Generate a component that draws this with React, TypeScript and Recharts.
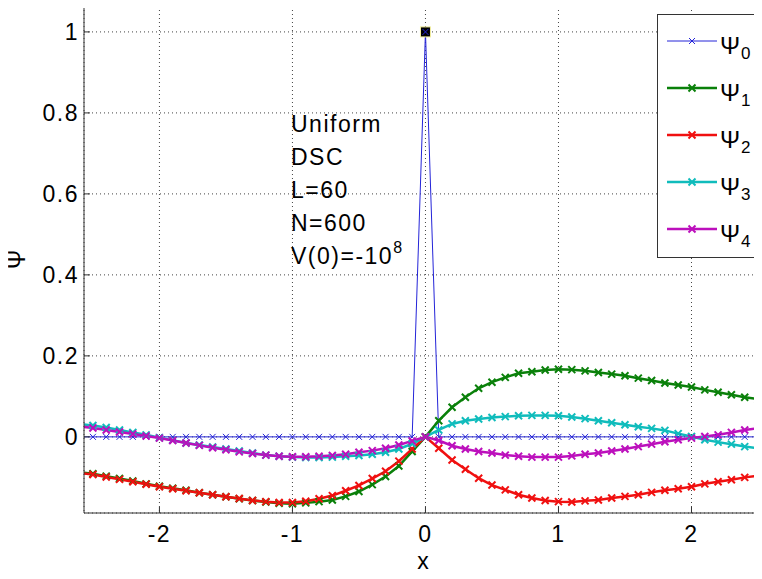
import React from 'react';
import { ComposedChart, Line, XAxis, YAxis, CartesianGrid, Legend, ReferenceDot } from 'recharts';

// grid points, step 0.1 (L=60, N=600), a bit past the visible x range on both sides
const xs = [
  -2.6, -2.5, -2.4, -2.3, -2.2, -2.1, -2.0, -1.9, -1.8, -1.7, -1.6, -1.5, -1.4,
  -1.3, -1.2, -1.1, -1.0, -0.9, -0.8, -0.7, -0.6, -0.5, -0.4, -0.3, -0.2, -0.1,
  0,
  0.1, 0.2, 0.3, 0.4, 0.5, 0.6, 0.7, 0.8, 0.9, 1.0, 1.1, 1.2, 1.3,
  1.4, 1.5, 1.6, 1.7, 1.8, 1.9, 2.0, 2.1, 2.2, 2.3, 2.4, 2.5, 2.6,
];

const psi0 = [
  0, 0, 0, 0, 0, 0, 0, 0, 0, 0, 0, 0, 0,
  0, 0, 0, 0, 0, 0, 0, 0, 0, 0, 0, 0, 0,
  1,
  0, 0, 0, 0, 0, 0, 0, 0, 0, 0, 0, 0, 0,
  0, 0, 0, 0, 0, 0, 0, 0, 0, 0, 0, 0, 0,
];

const psi1 = [
  -0.087, -0.091, -0.097, -0.103, -0.109, -0.116, -0.122, -0.127, -0.132, -0.138, -0.143, -0.148, -0.153,
  -0.157, -0.161, -0.164, -0.165, -0.163, -0.160, -0.156, -0.147, -0.135, -0.118, -0.098, -0.072, -0.036,
  0,
  0.040, 0.073, 0.098, 0.120, 0.135, 0.147, 0.157, 0.161, 0.165, 0.167, 0.166, 0.163, 0.159,
  0.155, 0.151, 0.145, 0.139, 0.133, 0.128, 0.123, 0.116, 0.110, 0.104, 0.098, 0.093, 0.088,
];

const psi2 = [
  -0.089, -0.093, -0.099, -0.105, -0.111, -0.117, -0.123, -0.128, -0.133, -0.138, -0.143, -0.148, -0.152,
  -0.157, -0.160, -0.162, -0.162, -0.159, -0.153, -0.145, -0.133, -0.120, -0.103, -0.085, -0.060, -0.030,
  0,
  -0.028, -0.057, -0.080, -0.102, -0.119, -0.131, -0.143, -0.151, -0.157, -0.160, -0.161, -0.158, -0.156,
  -0.151, -0.147, -0.143, -0.137, -0.132, -0.128, -0.123, -0.116, -0.111, -0.106, -0.100, -0.096, -0.091,
];

const psi3 = [
  0.032, 0.028, 0.023, 0.017, 0.011, 0.005, -0.002, -0.008, -0.015, -0.020, -0.025, -0.030, -0.035,
  -0.040, -0.045, -0.048, -0.050, -0.051, -0.051, -0.050, -0.048, -0.046, -0.043, -0.038, -0.030, -0.017,
  0,
  0.017, 0.032, 0.040, 0.044, 0.048, 0.050, 0.052, 0.053, 0.053, 0.052, 0.049, 0.045, 0.040,
  0.035, 0.030, 0.025, 0.021, 0.016, 0.008, 0.001, -0.007, -0.013, -0.018, -0.024, -0.028, -0.031,
];

const psi4 = [
  0.026, 0.022, 0.017, 0.012, 0.007, 0.002, -0.003, -0.009, -0.015, -0.021, -0.027, -0.032, -0.037,
  -0.041, -0.045, -0.048, -0.049, -0.049, -0.048, -0.046, -0.043, -0.038, -0.034, -0.028, -0.020, -0.010,
  0,
  -0.009, -0.022, -0.030, -0.036, -0.040, -0.045, -0.048, -0.050, -0.050, -0.050, -0.047, -0.043, -0.040,
  -0.035, -0.030, -0.024, -0.018, -0.012, -0.007, -0.003, 0.001, 0.005, 0.011, 0.017, 0.021, 0.024,
];

const xTicks = [-2, -1, 0, 1, 2];
const yTicks = [0, 0.2, 0.4, 0.6, 0.8, 1];

// black square marking the peak of psi0
const peakX = 0;
const peakY = 1;

const notes = ['Uniform', 'DSC', 'L=60', 'N=600'];

const series = [
  { key: 'psi0', sub: '0', color: '#2424d8', width: 1, mark: 3 },
  { key: 'psi1', sub: '1', color: '#0a800a', width: 2.5, mark: 3.5 },
  { key: 'psi2', sub: '2', color: '#f01010', width: 2.5, mark: 3.5 },
  { key: 'psi3', sub: '3', color: '#10bcbc', width: 2.5, mark: 3.5 },
  { key: 'psi4', sub: '4', color: '#bc10bc', width: 2.5, mark: 3.5 },
];

const rows = xs.map((x, i) => ({
  x,
  psi0: psi0[i],
  psi1: psi1[i],
  psi2: psi2[i],
  psi3: psi3[i],
  psi4: psi4[i],
}));

const W = 762;
const H = 579;
const FONT = '"Liberation Sans", Arial, Helvetica, sans-serif';
// the original glyphs are a little wider than plain Arial
const SPACING = '1.5px';

const crossPath = (cx: number, cy: number, s: number) =>
  `M${cx - s},${cy - s}L${cx + s},${cy + s}M${cx - s},${cy + s}L${cx + s},${cy - s}`;

const makeDot = (color: string, s: number, w: number) => (props: any) => {
  const { cx, cy, index } = props;
  if (cx == null || cy == null) return <g key={`n-${index}`} />;
  return <path key={`d-${index}`} d={crossPath(cx, cy, s)} stroke={color} strokeWidth={w} fill="none" />;
};

const renderLegend = () => (
  <div
    style={{
      width: 105,
      height: 244,
      border: '1px solid #333',
      background: '#fff',
      boxSizing: 'border-box',
    }}
  >
    <svg width={103} height={242} style={{ display: 'block' }}>
      {series.map((s, i) => {
        const y = 26 + i * 47;
        return (
          <g key={s.key}>
            <line x1={9} x2={59} y1={y} y2={y} stroke={s.color} strokeWidth={s.width} />
            <path d={crossPath(34, y, s.mark)} stroke={s.color} strokeWidth={s.width > 1 ? 2 : 1} fill="none" />
            <text x={62} y={y + 13} fontSize={24} fontFamily={FONT} fill="#000">
              Ψ
              <tspan fontSize={17} dy={5} dx={1}>
                {s.sub}
              </tspan>
            </text>
          </g>
        );
      })}
    </svg>
  </div>
);

const axisTick = { fill: '#000', fontSize: 23, fontFamily: FONT, style: { letterSpacing: SPACING } };

export default function App() {
  return (
    <div
      style={{
        position: 'relative',
        width: W,
        height: H,
        marginLeft: -8,
        marginTop: -8,
        background: '#fff',
        overflow: 'hidden',
      }}
    >
      <ComposedChart width={W} height={H} data={rows} margin={{ top: 6, right: 0, bottom: 0, left: 0 }}>
        <CartesianGrid stroke="#444" strokeDasharray="1 3" />
        <XAxis
          dataKey="x"
          type="number"
          domain={[-2.567, 2.53]}
          ticks={xTicks}
          allowDataOverflow
          height={66}
          tickSize={-6}
          tickMargin={19}
          stroke="#333"
          tick={axisTick}
          label={{ value: 'x', position: 'insideBottom', offset: 10, fill: '#000', fontSize: 23, fontFamily: FONT }}
        />
        <XAxis
          xAxisId="top"
          orientation="top"
          dataKey="x"
          type="number"
          domain={[-2.567, 2.53]}
          ticks={xTicks}
          allowDataOverflow
          height={0}
          tickSize={-6}
          tick={false}
          stroke="#333"
        />
        <YAxis
          type="number"
          domain={[-0.188, 1.064]}
          ticks={yTicks}
          allowDataOverflow
          width={84}
          tickSize={-6}
          tickMargin={11}
          stroke="#333"
          tick={axisTick}
          label={{
            value: 'Ψ',
            angle: -90,
            position: 'insideLeft',
            offset: 17,
            fill: '#000',
            fontSize: 23,
            fontFamily: FONT,
            style: { textAnchor: 'middle' },
          }}
        />
        {series.map((s) => (
          <Line
            key={s.key}
            type="linear"
            dataKey={s.key}
            name={s.key}
            stroke={s.color}
            strokeWidth={s.width}
            dot={makeDot(s.color, s.mark, s.width > 1 ? 2 : 1)}
            activeDot={false}
            isAnimationActive={false}
          />
        ))}
        <ReferenceDot
          x={peakX}
          y={peakY}
          r={5}
          shape={(p: any) => (
            <rect x={p.cx - 5} y={p.cy - 5} width={10} height={10} fill="#000" stroke="#f4f0a0" strokeWidth={1} />
          )}
        />
        <Legend
          layout="vertical"
          align="center"
          verticalAlign="middle"
          content={renderLegend}
          wrapperStyle={{ left: 657, top: 14, width: 105, height: 244 }}
        />
      </ComposedChart>
      <svg
        width={W}
        height={H}
        style={{ position: 'absolute', left: 0, top: 0, pointerEvents: 'none' }}
      >
        {notes.map((t, i) => (
          <text
            key={t}
            x={291}
            y={132 + i * 33}
            fontSize={23}
            fontFamily={FONT}
            fill="#000"
            style={{ letterSpacing: SPACING }}
          >
            {t}
          </text>
        ))}
        <text
          x={291}
          y={132 + 4 * 33}
          fontSize={23}
          fontFamily={FONT}
          fill="#000"
          style={{ letterSpacing: SPACING }}
        >
          V(0)=-10
          <tspan fontSize={16} dy={-11}>
            8
          </tspan>
        </text>
      </svg>
    </div>
  );
}
